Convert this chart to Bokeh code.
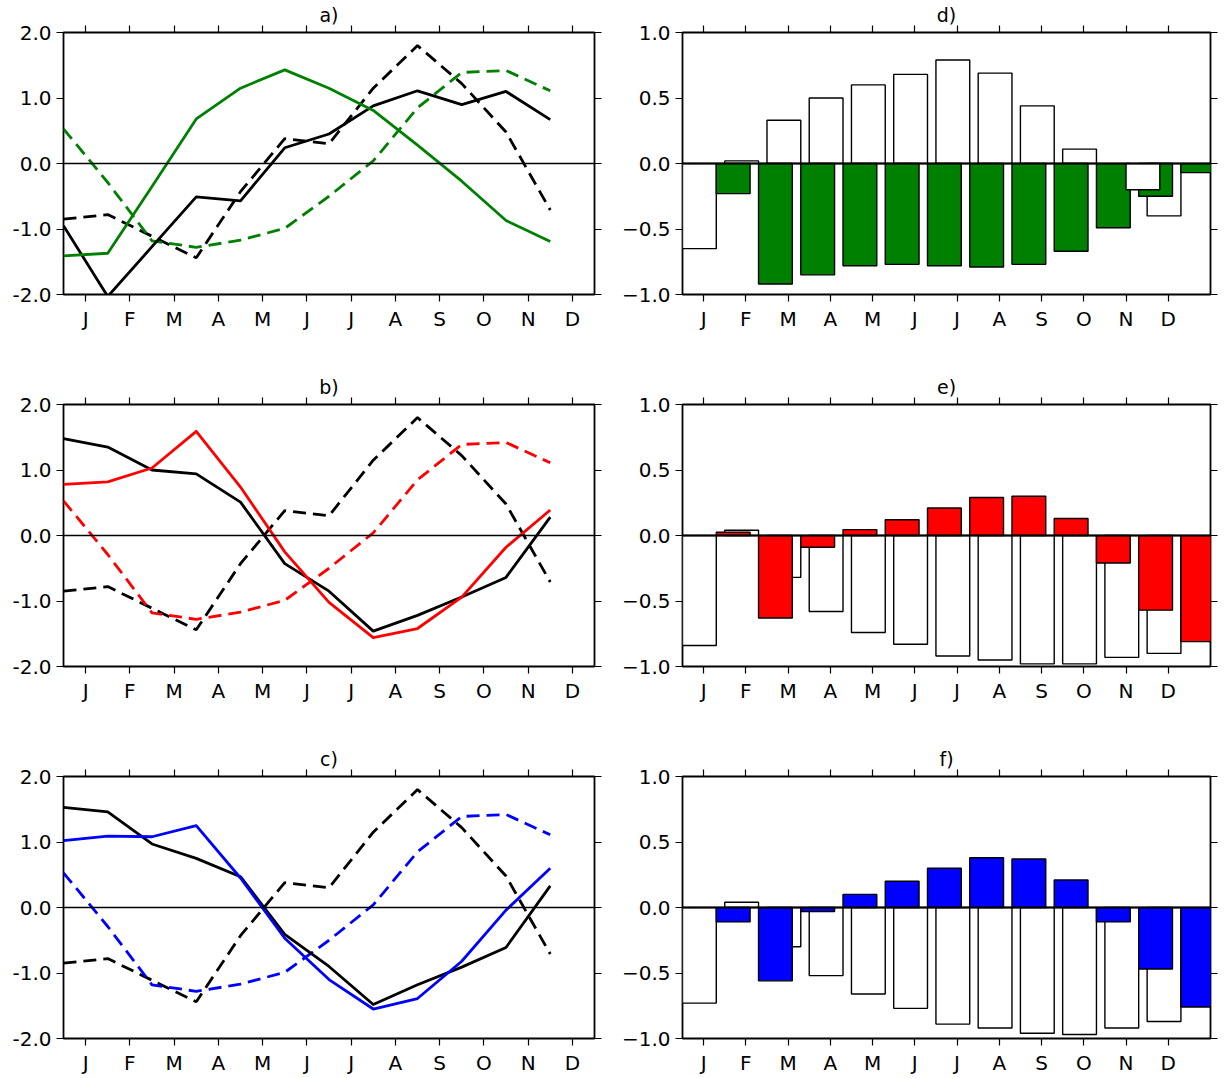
import numpy as np
from bokeh.plotting import figure
from bokeh.layouts import column, row
from bokeh.models import FixedTicker, LinearAxis, Span, Range1d
from bokeh.embed import file_html
from bokeh.resources import INLINE

# ---------------- data ----------------
months = ["J", "F", "M", "A", "M", "J", "J", "A", "S", "O", "N", "D"]

# reference curves (same in a, b, c)
ref_black_dashed = [-0.85, -0.78, -1.11, -1.44, -0.43, 0.38, 0.30, 1.15, 1.80, 1.22, 0.48, -0.71]
ref_color_dashed = [0.53, -0.29, -1.18, -1.28, -1.17, -0.99, -0.50, 0.04, 0.85, 1.39, 1.42, 1.11]

# panel a
a_black = [-0.95, -2.03, -1.27, -0.51, -0.57, 0.24, 0.45, 0.88, 1.11, 0.90, 1.10, 0.67]
a_green = [-1.41, -1.37, -0.35, 0.68, 1.15, 1.43, 1.15, 0.81, 0.28, -0.27, -0.87, -1.19]
# panel b
b_black = [1.48, 1.35, 1.00, 0.94, 0.51, -0.43, -0.85, -1.46, -1.22, -0.94, -0.64, 0.28]
b_red = [0.78, 0.82, 1.03, 1.59, 0.74, -0.25, -1.02, -1.56, -1.42, -0.94, -0.18, 0.39]
# panel c
c_black = [1.53, 1.46, 0.97, 0.75, 0.47, -0.41, -0.90, -1.48, -1.18, -0.91, -0.61, 0.33]
c_blue = [1.02, 1.09, 1.08, 1.25, 0.45, -0.47, -1.10, -1.55, -1.39, -0.82, -0.04, 0.60]

# panel d
d_white = [-0.65, 0.02, 0.33, 0.50, 0.60, 0.68, 0.79, 0.69, 0.44, 0.11, -0.20, -0.40]
d_green = [-0.23, -0.92, -0.85, -0.78, -0.77, -0.78, -0.79, -0.77, -0.67, -0.49, -0.25, -0.07]
# panel e
e_white = [-0.84, 0.04, -0.32, -0.58, -0.74, -0.83, -0.92, -0.95, -0.98, -0.98, -0.93, -0.90]
e_red = [0.025, -0.63, -0.09, 0.045, 0.12, 0.21, 0.29, 0.30, 0.13, -0.21, -0.57, -0.81]
# panel f
f_white = [-0.73, 0.04, -0.30, -0.52, -0.66, -0.77, -0.89, -0.92, -0.96, -0.97, -0.92, -0.87]
f_blue = [-0.11, -0.56, -0.03, 0.10, 0.20, 0.30, 0.38, 0.37, 0.21, -0.11, -0.47, -0.76]

left_yticks = [-2.0, -1.0, 0.0, 1.0, 2.0]
left_ylabels = ["-2.0", "-1.0", "0.0", "1.0", "2.0"]
right_yticks = [-1.0, -0.5, 0.0, 0.5, 1.0]
right_ylabels = ["\u22121.0", "\u22120.5", "0.0", "0.5", "1.0"]

GREEN = "#008000"
RED = "#ff0000"
BLUE = "#0000ff"

FONT = "DejaVu Sans"
FS = "20px"
FRAME_H = 262
LW = 2.8
DASH = "13 7"


def make_fig(title, xr, yr, yticks, ylabels, frame_w, bl, br, bb):
    p = figure(frame_width=frame_w, frame_height=FRAME_H,
               x_range=Range1d(*xr), y_range=Range1d(*yr),
               output_backend="svg", toolbar_location=None,
               x_axis_type=None, y_axis_type=None,
               min_border_left=bl, min_border_right=br,
               min_border_top=32, min_border_bottom=bb)
    p.background_fill_color = "white"
    p.border_fill_color = "white"
    p.outline_line_color = "black"
    p.outline_line_width = 1.8
    p.title.text = title
    p.title.align = "center"
    p.title.text_font = FONT
    p.title.text_font_size = "19px"
    p.title.text_font_style = "normal"
    p.title.text_color = "black"
    p.title.standoff = 0
    p.title.offset = 0

    xt = FixedTicker(ticks=[i + 0.5 for i in range(len(months))], minor_ticks=[])
    xlab = {i + 0.5: m for i, m in enumerate(months)}
    yt = FixedTicker(ticks=yticks, minor_ticks=[])
    ylab = dict(zip(yticks, ylabels))

    def axis(ticker, labels, show):
        ax = LinearAxis(ticker=ticker)
        ax.axis_line_color = None
        ax.major_tick_out = 7
        ax.major_tick_in = 0
        ax.minor_tick_out = 0
        ax.minor_tick_in = 0
        ax.major_tick_line_color = "black"
        ax.major_tick_line_width = 1.2
        ax.major_label_text_font = FONT
        ax.major_label_text_color = "black"
        if show:
            ax.major_label_overrides = labels
            ax.major_label_text_font_size = FS
            ax.major_label_standoff = 5
        else:
            ax.major_label_overrides = {k: "" for k in labels}
            ax.major_label_text_font_size = "0px"
            ax.major_label_standoff = 0
        return ax

    p.add_layout(axis(xt, xlab, True), "below")
    p.add_layout(axis(xt, xlab, False), "above")
    p.add_layout(axis(yt, ylab, True), "left")
    p.add_layout(axis(yt, ylab, False), "right")
    return p


def line_panel(title, black_solid, color_solid, color, bb):
    p = make_fig(title, (0, 12), (-2, 2), left_yticks, left_ylabels, 531, 63, 21, bb)
    x = np.arange(len(months))
    p.line(x, ref_black_dashed, line_color="black", line_width=LW, line_dash=DASH)
    p.line(x, ref_color_dashed, line_color=color, line_width=LW, line_dash=DASH)
    p.line(x, black_solid, line_color="black", line_width=LW, line_join="round")
    p.line(x, color_solid, line_color=color, line_width=LW, line_join="round")
    p.add_layout(Span(location=0, dimension="width", line_color="black", line_width=1.4))
    return p


def bar_panel(title, white_vals, color_vals, color, bb, raised=None):
    raised = raised or {}
    p = make_fig(title, (0, 12.5), (-1, 1), right_yticks, right_ylabels, 528, 67, 15, bb)
    bw = 0.8
    idx = np.arange(len(months))
    keep = [i for i in idx if i not in raised]
    wl = np.array([float(i) for i in keep])
    wv = np.array([white_vals[i] for i in keep])
    p.quad(left=wl, right=wl + bw, bottom=0, top=wv,
           fill_color="white", line_color="black", line_width=1.4)
    cl = idx + bw
    p.quad(left=cl, right=cl + bw, bottom=0, top=np.array(color_vals),
           fill_color=color, line_color="black", line_width=1.4)
    if raised:
        rl = np.array([i + s for i, s in raised.items()])
        rv = np.array([white_vals[i] for i in raised])
        p.quad(left=rl, right=rl + bw, bottom=0, top=rv,
               fill_color="white", line_color="black", line_width=1.4)
    p.add_layout(Span(location=0, dimension="width", line_color="black", line_width=2))
    return p


pa = line_panel("a)", a_black, a_green, GREEN, 78)
pb = line_panel("b)", b_black, b_red, RED, 78)
pc = line_panel("c)", c_black, c_blue, BLUE, 38)
pd = bar_panel("d)", d_white, d_green, GREEN, 78, raised={10: 0.5})
pe = bar_panel("e)", e_white, e_red, RED, 78)
pf = bar_panel("f)", f_white, f_blue, BLUE, 38)

layout = column(row(pa, pd, spacing=0), row(pb, pe, spacing=0), row(pc, pf, spacing=0), spacing=0)

open("out.html", "w").write(file_html(layout, INLINE))
